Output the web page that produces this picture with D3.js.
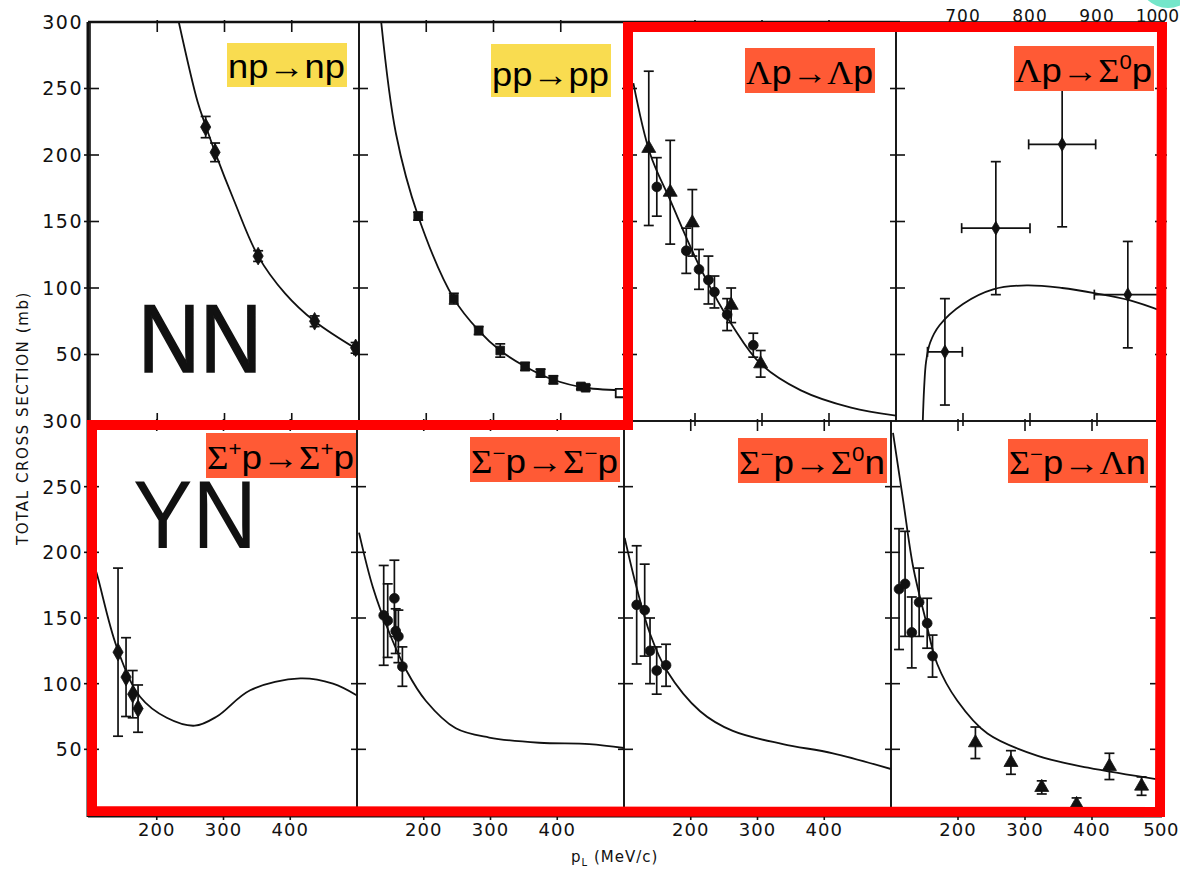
<!DOCTYPE html>
<html>
<head>
<meta charset="utf-8">
<script src="https://cdn.jsdelivr.net/npm/d3@7"></script>
<style>
  body { margin: 0; background: #fff; }
  svg { display: block; }
</style>
</head>
<body>
<div id="chart"></div>
<script>
// axis ticks
const yTicks = [50, 100, 150, 200, 250, 300];
const xTicksLow = [200, 300, 400];
const xTicksHigh = [700, 800, 900, 1000];

// np -> np   curve: [p, sigma]   points: [p, sigma, err]
const npCurve = [[232, 300], [260, 240], [272, 222], [286, 202], [314, 166], [350, 124], [390, 96], [434, 75], [500, 53]];
const npPoints = [[272, 221, 8], [286, 202, 7], [350, 124, 4], [434, 75, 4], [495, 55, 4]];

// pp -> pp
const ppCurve = [[133, 300], [155, 216], [188, 154], [241, 92], [278, 68], [310, 53], [347, 41], [389, 31], [437, 25], [500, 23]];
const ppPoints = [[188, 154, 3], [241, 92, 4], [278, 68, 3], [310, 53, 5], [347, 41, 3], [370, 36, 3], [389, 31, 3], [430, 26, 2], [437, 25, 2]];
const ppOpen = [[488, 21, 2]];

// Lambda p -> Lambda p
const lpCurve = [[108, 254], [133, 201], [163, 166], [208, 115], [258, 70], [298, 43], [358, 23], [433, 10], [500, 4]];
const lpCircles = [[143, 176, 22], [187, 128, 17], [206, 114, 15], [220, 106, 18], [229, 97, 12], [248, 80, 12], [287, 57, 9]];
const lpTriangles = [[131, 205, 58], [163, 172, 39], [196, 149, 25], [254, 87, 13], [298, 43, 10]];

// Lambda p -> Sigma0 p   points: [p, sigma, errY, errX]
const lsCurve = [[640, 0], [642, 25], [645, 45], [651, 59], [665, 72], [700, 88], [745, 99], [795, 102], [848, 100], [898, 96], [947, 91], [1000, 82]];
const lsPoints = [[673, 52, 40, 26], [749, 145, 50, 51], [848, 208, 62, 50], [946, 95, 40, 50]];

// Sigma+ p -> Sigma+ p
const spCurve = [[100, 200], [110, 184], [140, 128], [175, 90], [215, 74], [257, 68], [290, 75], [340, 95], [415, 104], [464, 100], [500, 91]];
const spPoints = [[142, 124, 64], [154, 105, 30], [164, 92, 18], [172, 81, 18]];

// Sigma- p -> Sigma- p
const smCurve = [[103, 215], [124, 173], [149, 138], [174, 110], [203, 87], [248, 66], [298, 59], [373, 55], [448, 54], [500, 51]];
const smPoints = [[140, 152, 38], [146, 148, 28], [156, 165, 29], [158, 140, 17], [162, 136, 20], [168, 113, 15]];

// Sigma- p -> Sigma0 n
const s0Curve = [[101, 211], [119, 173], [139, 138], [164, 110], [214, 79], [263, 64], [338, 54], [413, 47], [500, 35]];
const s0Points = [[119, 160, 45], [131, 156, 35], [139, 125, 25], [149, 110, 18], [163, 114, 16]];

// Sigma- p -> Lambda n
const lnCurve = [[103, 291], [118, 240], [133, 189], [151, 150], [169, 115], [199, 87], [244, 62], [319, 45], [394, 36], [500, 27]];
const lnCircles = [[112, 172, 46], [121, 176, 40], [131, 139, 27], [142, 162, 26], [154, 146, 19], [162, 121, 16]];
const lnTriangles = [[226, 55, 12], [279, 40, 9], [325, 21, 5], [377, 8, 5], [426, 37, 10], [474, 22, 7]];

const yellow = "#f9dc50";
const orange = "#ff5a35";
const ink = "#111";

const panels = [
  { row: 0, col: 0, label: "np→np", fill: yellow, box: [227, 43, 120, 44], curve: npCurve, sets: [{ pts: npPoints, shape: "diamond" }] },
  { row: 0, col: 1, label: "pp→pp", fill: yellow, box: [491, 44, 120, 53], curve: ppCurve, sets: [{ pts: ppPoints, shape: "square" }, { pts: ppOpen, shape: "open" }] },
  { row: 0, col: 2, label: "Λp→Λp", fill: orange, box: [745, 48, 130, 45], curve: lpCurve, sets: [{ pts: lpCircles, shape: "circle" }, { pts: lpTriangles, shape: "triangle" }] },
  { row: 0, col: 3, label: "Λp→Σ^0p", fill: orange, box: [1014, 46, 140, 45], curve: lsCurve, sets: [{ pts: lsPoints, shape: "diamondSmall", xerr: true }], domain: [600, 1000] },
  { row: 1, col: 0, label: "Σ^+p→Σ^+p", fill: orange, box: [206, 433, 150, 45], curve: spCurve, sets: [{ pts: spPoints, shape: "diamond" }] },
  { row: 1, col: 1, label: "Σ^−p→Σ^−p", fill: orange, box: [470, 437, 150, 45], curve: smCurve, sets: [{ pts: smPoints, shape: "circle" }] },
  { row: 1, col: 2, label: "Σ^−p→Σ^0n", fill: orange, box: [738, 438, 149, 45], curve: s0Curve, sets: [{ pts: s0Points, shape: "circle" }] },
  { row: 1, col: 3, label: "Σ^−p→Λn", fill: orange, box: [1008, 439, 140, 44], curve: lnCurve, sets: [{ pts: lnCircles, shape: "circle" }, { pts: lnTriangles, shape: "triangle" }] }
];

// scanned frame is slightly skewed, so each row has its own column edges
const rowY = [[421, 22], [815, 421]];
const colX = [[90, 359, 628, 896, 1164], [90, 357, 624, 891, 1159]];

const width = 1180, height = 874;

const svg = d3.select("#chart").append("svg")
  .attr("width", width)
  .attr("height", height)
  .style("font-family", "'DejaVu Sans', sans-serif");

svg.append("rect").attr("width", width).attr("height", height).attr("fill", "#fff");

// teal blob in the corner
svg.append("circle").attr("cx", 1168).attr("cy", -22).attr("r", 30).attr("fill", "#74e6ca");

const defs = svg.append("defs");

const line = d3.line().curve(d3.curveCatmullRom.alpha(0.5));

panels.forEach((pn, i) => {
  const x0 = colX[pn.row][pn.col], x1 = colX[pn.row][pn.col + 1];
  const [yb, yt] = rowY[pn.row];
  const x = d3.scaleLinear().domain(pn.domain || [100, 500]).range([x0, x1]);
  const y = d3.scaleLinear().domain([0, 300]).range([yb, yt]);
  pn.x = x; pn.y = y;

  defs.append("clipPath").attr("id", "clip" + i)
    .append("rect").attr("x", x0).attr("y", yt).attr("width", x1 - x0).attr("height", yb - yt);

  const g = svg.append("g");

  // frame
  g.append("rect")
    .attr("x", x0).attr("y", yt).attr("width", x1 - x0).attr("height", yb - yt)
    .attr("fill", "none").attr("stroke", ink).attr("stroke-width", 1.6);

  // y ticks on the left edge of each panel (and right edge of last column)
  yTicks.filter(t => t < 300).forEach(t => {
    g.append("line").attr("x1", x0 - 6).attr("x2", x0 + 9).attr("y1", y(t)).attr("y2", y(t))
      .attr("stroke", ink).attr("stroke-width", 1.6);
    if (pn.col === 3) {
      g.append("line").attr("x1", x1 - 9).attr("x2", x1 + 3).attr("y1", y(t)).attr("y2", y(t))
        .attr("stroke", ink).attr("stroke-width", 1.6);
    }
  });

  // x ticks top and bottom
  const xt = pn.domain ? [700, 800, 900] : xTicksLow;
  xt.forEach(t => {
    g.append("line").attr("x1", x(t)).attr("x2", x(t)).attr("y1", yt - 2).attr("y2", yt + 10)
      .attr("stroke", ink).attr("stroke-width", 1.6);
    g.append("line").attr("x1", x(t)).attr("x2", x(t)).attr("y1", yb - 8).attr("y2", yb + 5)
      .attr("stroke", ink).attr("stroke-width", 1.6);
  });

  const inner = g.append("g").attr("clip-path", `url(#clip${i})`);

  inner.append("path")
    .datum(pn.curve)
    .attr("d", line.x(d => x(d[0])).y(d => y(d[1])))
    .attr("fill", "none").attr("stroke", ink).attr("stroke-width", 1.8);

  pn.sets.forEach(set => {
    const pg = inner.append("g");
    // error bars
    set.pts.forEach(d => {
      const cx = x(d[0]);
      pg.append("line").attr("x1", cx).attr("x2", cx).attr("y1", y(d[1] - d[2])).attr("y2", y(d[1] + d[2]))
        .attr("stroke", ink).attr("stroke-width", 1.7);
      [d[1] - d[2], d[1] + d[2]].forEach(v => {
        pg.append("line").attr("x1", cx - 5).attr("x2", cx + 5).attr("y1", y(v)).attr("y2", y(v))
          .attr("stroke", ink).attr("stroke-width", 1.7);
      });
      if (set.xerr) {
        const cy = y(d[1]);
        pg.append("line").attr("x1", x(d[0] - d[3])).attr("x2", x(d[0] + d[3])).attr("y1", cy).attr("y2", cy)
          .attr("stroke", ink).attr("stroke-width", 1.7);
        [d[0] - d[3], d[0] + d[3]].forEach(v => {
          pg.append("line").attr("x1", x(v)).attr("x2", x(v)).attr("y1", cy - 5).attr("y2", cy + 5)
            .attr("stroke", ink).attr("stroke-width", 1.7);
        });
      }
    });

    // markers
    const sym = {
      diamond: d3.symbol().type(d3.symbolDiamond).size(90),
      diamondSmall: d3.symbol().type(d3.symbolDiamond).size(55),
      square: d3.symbol().type(d3.symbolSquare).size(75),
      open: d3.symbol().type(d3.symbolSquare).size(70),
      circle: d3.symbol().type(d3.symbolCircle).size(75),
      triangle: d3.symbol().type(d3.symbolTriangle).size(85)
    }[set.shape];

    pg.selectAll("path.mark")
      .data(set.pts)
      .join("path")
      .attr("class", "mark")
      .attr("transform", d => `translate(${x(d[0])},${y(d[1])})`)
      .attr("d", sym)
      .attr("fill", set.shape === "open" ? "#fff" : ink)
      .attr("stroke", ink)
      .attr("stroke-width", set.shape === "open" ? 1.8 : 0.8);
  });
});

// heavier outer axes (left and bottom)
svg.append("line").attr("x1", 88).attr("x2", 88).attr("y1", 22).attr("y2", 817)
  .attr("stroke", ink).attr("stroke-width", 3);
svg.append("line").attr("x1", 88).attr("x2", 1162).attr("y1", 816).attr("y2", 816)
  .attr("stroke", ink).attr("stroke-width", 3);
svg.append("line").attr("x1", 88).attr("x2", 900).attr("y1", 22).attr("y2", 22)
  .attr("stroke", ink).attr("stroke-width", 2.5);

// y tick labels (both rows)
rowY.forEach(([yb, yt]) => {
  const y = d3.scaleLinear().domain([0, 300]).range([yb, yt]);
  svg.append("g").selectAll("text")
    .data(yTicks)
    .join("text")
    .attr("x", 83)
    .attr("y", d => y(d))
    .attr("dy", "0.36em")
    .attr("text-anchor", "end")
    .attr("font-size", 19)
    .attr("letter-spacing", 1.5)
    .attr("fill", ink)
    .text(d => d);
});

// x tick labels under bottom row
panels.filter(p => p.row === 1).forEach(pn => {
  svg.append("g").selectAll("text")
    .data(xTicksLow)
    .join("text")
    .attr("x", d => pn.x(d))
    .attr("y", 836)
    .attr("text-anchor", "middle")
    .attr("font-size", 18)
    .attr("letter-spacing", 1)
    .attr("fill", ink)
    .text(d => d);
});
svg.append("text").attr("x", 1179).attr("y", 836).attr("text-anchor", "end")
  .attr("font-size", 18).attr("letter-spacing", 0.5).attr("fill", ink).text(500);

// top labels for the high-momentum panel
const hp = panels[3];
svg.append("g").selectAll("text")
  .data(xTicksHigh)
  .join("text")
  .attr("x", d => d === 1000 ? 1179 : hp.x(d))
  .attr("y", 22)
  .attr("text-anchor", d => d === 1000 ? "end" : "middle")
  .attr("font-size", 17)
  .attr("letter-spacing", d => d === 1000 ? 0 : 1)
  .attr("fill", ink)
  .text(d => d);

// axis titles
svg.append("text")
  .attr("transform", "translate(28,418) rotate(-90)")
  .attr("text-anchor", "middle")
  .attr("font-size", 15)
  .attr("letter-spacing", 1.6)
  .attr("fill", ink)
  .text("TOTAL CROSS SECTION (mb)");

const xt = svg.append("text").attr("x", 571).attr("y", 862).attr("font-size", 15)
  .attr("letter-spacing", 1).attr("fill", ink);
xt.append("tspan").text("p");
xt.append("tspan").attr("font-size", 10).attr("dy", 4).text("L");
xt.append("tspan").attr("dy", -4).text(" (MeV/c)");

// big NN / YN
svg.append("text").attr("x", 138).attr("y", 372).attr("font-size", 96)
  .attr("font-family", "'Liberation Sans', Arial, sans-serif")
  .attr("textLength", 124).attr("lengthAdjust", "spacingAndGlyphs")
  .attr("fill", ink).attr("stroke", ink).attr("stroke-width", 1.5).text("NN");
svg.append("text").attr("x", 133).attr("y", 548).attr("font-size", 96)
  .attr("font-family", "'Liberation Sans', Arial, sans-serif")
  .attr("textLength", 124).attr("lengthAdjust", "spacingAndGlyphs")
  .attr("fill", ink).text("YN");

// reaction labels: '^' marks a superscript; greek letters and arrow in serif
const serifChars = "ΛΣ→";
panels.forEach(pn => {
  const [bx, by, bw, bh] = pn.box;
  svg.append("rect").attr("x", bx).attr("y", by).attr("width", bw).attr("height", bh).attr("fill", pn.fill);
  const t = svg.append("text")
    .attr("x", bx + 1)
    .attr("y", by + bh * 0.8)
    .attr("font-size", 33)
    .attr("font-family", "'Liberation Sans', Arial, sans-serif")
    .attr("textLength", bw - 3)
    .attr("lengthAdjust", "spacingAndGlyphs")
    .attr("fill", "#000");
  const chars = Array.from(pn.label);
  let shift = 0;
  for (let k = 0; k < chars.length; k++) {
    if (chars[k] === "^") {
      t.append("tspan").attr("font-size", 20).attr("dy", -13).text(chars[k + 1]);
      shift = 13;
      k++;
      continue;
    }
    const ts = t.append("tspan").text(chars[k]);
    if (shift) { ts.attr("dy", shift); shift = 0; }
    if (serifChars.includes(chars[k])) ts.attr("font-family", "'Liberation Serif', 'DejaVu Serif', serif");
  }
});

// red outline grouping the hyperon panels
svg.append("path")
  .attr("d", d3.line()([[628, 27], [1162, 27], [1160, 812], [92, 811], [92, 425], [628, 425]]) + "Z")
  .attr("fill", "none")
  .attr("stroke", "#ff0000")
  .attr("stroke-width", 10)
  .attr("stroke-linejoin", "miter");
</script>
</body>
</html>
